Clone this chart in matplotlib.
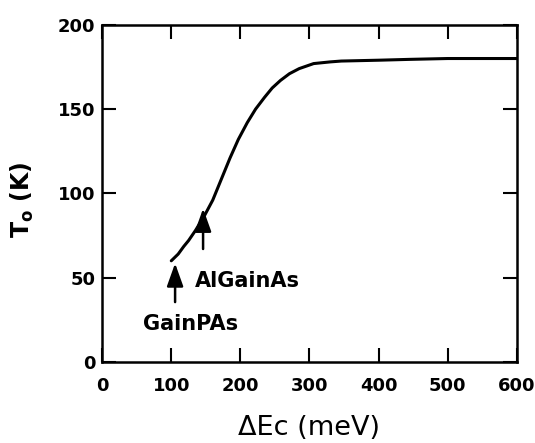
import numpy as np
import matplotlib
matplotlib.use("Agg")
import matplotlib.pyplot as plt

# curve
delta_ec = [100, 110, 118, 125, 135, 147, 160, 172, 185, 197, 210, 222, 235, 246, 258, 271, 285, 306, 330, 346, 400, 445, 500, 550, 600]
t0 = [60, 64, 68.5, 72, 78, 86, 96, 108, 121, 132, 142, 150, 157, 162.5, 167, 171, 174, 177, 178, 178.5, 179, 179.5, 180, 180, 180]

x_ticks = [0, 100, 200, 300, 400, 500, 600]
y_ticks = [0, 50, 100, 150, 200]

plt.rcParams['font.family'] = ['DejaVu Sans']

fig = plt.figure(figsize=(5.35, 4.43), dpi=100)
ax = fig.add_axes([0.191, 0.183, 0.775, 0.761])

ax.plot(delta_ec, t0, color='black', lw=2.2, solid_capstyle='round')

ax.set_xlim(0, 600)
ax.set_ylim(0, 200)
ax.set_xticks(x_ticks)
ax.set_yticks(y_ticks)
ax.tick_params(direction='in', length=10, width=1.5, top=True, right=True,
               labelsize=13)
ax.tick_params(axis='x', pad=11)
ax.tick_params(axis='y', pad=5)
for lab in ax.get_xticklabels() + ax.get_yticklabels():
    lab.set_fontweight('bold')
for s in ax.spines.values():
    s.set_linewidth(1.8)

ax.set_xlabel('ΔEc (meV)', fontsize=19.5, labelpad=14)
ax.set_ylabel('T$_\\mathregular{o}$ (K)', fontsize=17, fontweight='bold')
ax.yaxis.set_label_coords(-0.16, 0.48)

# arrows marking the two material systems
arrow_kw = dict(arrowstyle='-|>,head_width=0.5,head_length=1.4', color='black',
                lw=1.8, mutation_scale=10, shrinkA=0, shrinkB=0)
ax.annotate('', xy=(105.5, 58.5), xytext=(105.5, 35.5), arrowprops=arrow_kw)
ax.annotate('', xy=(146, 91), xytext=(146, 67), arrowprops=arrow_kw)
ax.text(134, 48, 'AlGainAs', fontsize=15, fontweight='bold', va='center', ha='left')
ax.text(59, 22.5, 'GainPAs', fontsize=15, fontweight='bold', va='center', ha='left')

fig.savefig('out.png', dpi=100)
